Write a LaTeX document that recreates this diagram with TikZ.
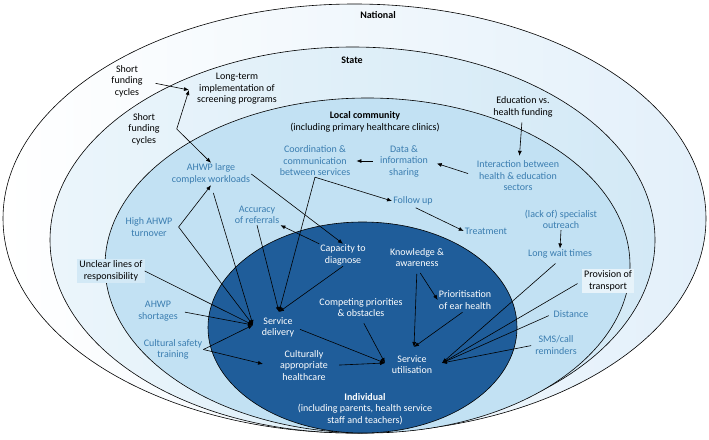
\documentclass[tikz,border=0pt]{standalone}
\usepackage{fontspec}
\setmainfont{Carlito}
\usepackage{tikz}
\usetikzlibrary{arrows.meta,positioning}
\definecolor{natblue}{HTML}{E3F0FA}
\definecolor{stateblue}{HTML}{D3E9F6}
\definecolor{localblue}{HTML}{C2E1F3}
\definecolor{indblue}{HTML}{1F5D9A}
\definecolor{facblue}{HTML}{3A7DB0}

\begin{document}
\begin{tikzpicture}[x=1pt, y=-1pt, every node/.style={font=\fontsize{10}{11.5}\selectfont, align=center, inner sep=1pt}]
\tikzset{ring/.style={draw=black, line width=0.6pt}}
\tikzset{lvl/.style={font=\fontsize{10}{11.5}\selectfont\bfseries}}
\tikzset{ext/.style={text=black}}
\tikzset{fac/.style={text=facblue}}
\tikzset{ind/.style={text=white}}
\tikzset{arr/.style={-{Latex[length=5pt,width=4pt]}, line width=0.6pt}}
\useasboundingbox (0,0) rectangle (709,439);

% nested levels
\path[ring, left color=white, middle color=natblue, right color=natblue] (354.5,218.5) ellipse [x radius=351.5, y radius=214.5];
\path[ring, left color=stateblue!45!white, middle color=stateblue, right color=stateblue] (352.5,240) ellipse [x radius=302.5, y radius=193];
\path[ring, fill=localblue] (367.5,265.5) ellipse [x radius=262.5, y radius=167.5];
\path[ring, fill=indblue] (362.5,327.5) ellipse [x radius=154.5, y radius=105.5];

% level titles
\node[lvl] (nat) at (378,15) {National};
\node[lvl] (sta) at (352,60) {State};
\node (loc) at (365,122) {\textbf{Local community}\\(including primary healthcare clinics)};
\node[ind] (indv) at (365,409) {\textbf{Individual}\\(including parents, health service\\staff and teachers)};

% national and state factors
\node[ext] (sfc1) at (127,81) {Short\\funding\\cycles};
\node[ext] (sfc2) at (144,129) {Short\\funding\\cycles};
\node[ext] (ltp) at (237,89) {Long-term\\implementation of\\screening programs};
\node[ext] (evh) at (523,107) {Education vs.\\health funding};
\node[ext, fill=stateblue, inner sep=2pt] (ulr) at (111,271) {Unclear lines of\\responsibility};
\node[ext, fill=stateblue!55!white, inner sep=2pt] (pot) at (608,281) {Provision of\\transport};

% local community factors
\node[fac] (awl) at (211,174) {AHWP large\\complex workloads};
\node[fac] (ccs) at (315,161) {Coordination \&\\communication\\between services};
\node[fac] (dis) at (404,161) {Data \&\\information\\sharing};
\node[fac] (ihe) at (518,176) {Interaction between\\health \& education\\sectors};
\node[fac] (fu) at (413,201) {Follow up};
\node[fac] (tr) at (486,231) {Treatment};
\node[fac] (lso) at (561,219.5) {(lack of) specialist\\outreach};
\node[fac] (lwt) at (560,254) {Long wait times};
\node[fac] (aor) at (257,215) {Accuracy\\of referrals};
\node[fac] (hat) at (149,227) {High AHWP\\turnover};
\node[fac] (ash) at (158,311) {AHWP\\shortages};
\node[fac] (cst) at (173,349.5) {Cultural safety\\training};
\node[fac] (dst) at (571,314) {Distance};
\node[fac] (sms) at (556,345) {SMS/call\\reminders};

% individual factors
\node[ind] (ctd) at (343,255) {Capacity to\\diagnose};
\node[ind] (kaw) at (417,257.5) {Knowledge \&\\awareness};
\node[ind] (cpo) at (361,307.5) {Competing priorities\\\& obstacles};
\node[ind] (peh) at (465,300) {Prioritisation\\of ear health};
\node[ind] (sd) at (278,327.5) {Service\\delivery};
\node[ind] (cah) at (304,365.5) {Culturally\\appropriate\\healthcare};
\node[ind] (su) at (412,364.5) {Service\\utilisation};

% where several arrows meet
\coordinate (ltpin) at (189,90);
\coordinate (sdL) at (253,325);
\coordinate (sdT) at (279,312);
\coordinate (suL) at (385,363);
\coordinate (suT) at (414,347);
\coordinate (suR) at (442,363);
\coordinate (cahin) at (263,364);

\draw[arr, shorten <=12pt] (sfc1.east) -- (ltpin);
\draw[arr] ([xshift=16pt]sfc2.east) -- (ltpin);
\draw[arr] ([xshift=16pt]sfc2.east) -- (awl.north);
\draw[arr, shorten <=4pt, shorten >=4pt] (evh) -- (ihe);
\draw[arr, shorten <=8pt, shorten >=8pt] (ihe.west) -- (dis.east);
\draw[arr, shorten <=6pt, shorten >=5pt] (dis.west) -- (ccs.east);
\draw[arr] (ccs.south) -- (fu.west);
\draw[arr] (ccs.south) -- (sdT);
\draw[arr, shorten <=3pt] (fu.south) -- (tr.west);
\draw[arr] (lso.south) -- (lwt.north);
\draw[arr] (awl.east) -- (ctd.north);
\draw[arr] (ctd.north west) -- (aor.south east);
\draw[arr] (aor.south) -- (sdT);
\draw[arr] (ctd.south) -- (sdT);
\draw[arr] ([xshift=5pt]hat.east) -- (awl.south);
\draw[arr] ([xshift=5pt]hat.east) -- (sdL);
\draw[arr, shorten <=8pt] (awl.south) -- (sdL);
\draw[arr] (ulr.east) -- (sdL);
\draw[arr, shorten <=6pt] (ash.east) -- (sdL);
\draw[arr] (cst.east) -- (sdL);
\draw[arr] (cst.east) -- (cahin);
\draw[arr, shorten <=5pt] (sd.east) -- (suL);
\draw[arr, shorten <=10pt] (cah.east) -- (suL);
\draw[arr, shorten <=6pt] (cpo.south) -- (suL);
\draw[arr, shorten <=6pt] (kaw.south) -- (suT);
\draw[arr, shorten <=6pt] (kaw.south) -- (peh.west);
\draw[arr, shorten <=3pt] (peh.south) -- (suT);
\draw[arr, shorten <=6pt] (lwt.south) -- (suR);
\draw[arr, shorten <=5pt] (pot.west) -- (suR);
\draw[arr, shorten <=4pt] (dst.west) -- (suR);
\draw[arr, shorten <=3pt] (sms.west) -- (suR);
\end{tikzpicture}
\end{document}
